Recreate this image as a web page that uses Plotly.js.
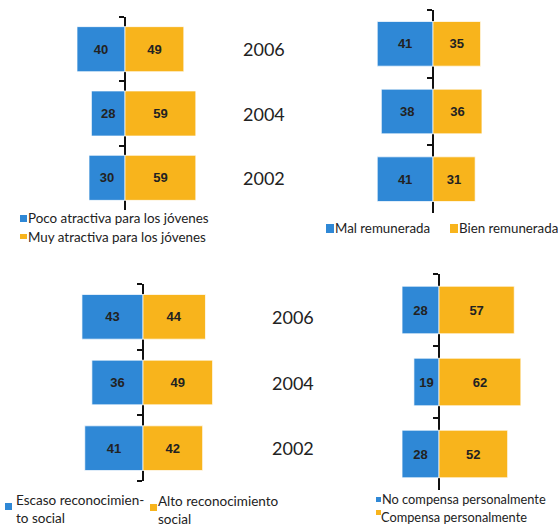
<!DOCTYPE html>
<html>
<head>
<meta charset="utf-8">
<script src="https://cdn.plot.ly/plotly-3.0.1.min.js"></script>
<style>html,body{margin:0;padding:0;background:#fff;}#chart{width:558px;height:526px;}</style>
</head>
<body>
<div id="chart"></div>
<script>
// ---- data ----
const years = ['2002', '2004', '2006'];

const atractivaPoco = [30, 28, 40];
const atractivaMuy = [59, 59, 49];

const remunMal = [41, 38, 41];
const remunBien = [31, 36, 35];

const reconEscaso = [41, 36, 43];
const reconAlto = [42, 49, 44];

const compensaNo = [28, 19, 28];
const compensaSi = [52, 62, 57];

const names = [
  ['Poco atractiva para los jóvenes', 'Muy atractiva para los jóvenes'],
  ['Mal remunerada', 'Bien remunerada'],
  ['Escaso reconocimien-<br>to social', 'Alto reconocimiento<br>social'],
  ['No compensa personalmente', 'Compensa personalmente']
];

// ---- styling / layout ----
const W = 558, H = 526;
const BLUE = '#2f88d6', ORANGE = '#f8b41c';
const px = v => v / W;
const py = v => 1 - v / H;

// panel geometry: [x0px, x1px, zeroPx, pxPerUnit, yTopPx, yBotPx, barWidth]
const panels = [
  [0, 280, 125, 1.2, 17, 210, 0.7],
  [280, 558, 433, 1.36, 10, 213, 0.66],
  [0, 280, 143, 1.42, 284, 481, 0.68],
  [280, 558, 439, 1.32, 274, 490, 0.66]
];
const series = [
  [atractivaPoco, atractivaMuy],
  [remunMal, remunBien],
  [reconEscaso, reconAlto],
  [compensaNo, compensaSi]
];
// hand-made legend: text [xStart, yCenter, fontSize], swatch [x, yTop, w, h]
const legendStyle = [
  [{t: [26, 218, 13.4], s: [20, 215, 7, 7]}, {t: [26, 237, 13.4], s: [20, 234, 7, 5]}],
  [{t: [333, 228, 13.3], s: [326, 224, 8, 9]}, {t: [457, 228, 13.3], s: [450, 224, 8, 9]}],
  [{t: [14, 508.5, 13.5], s: [5, 503, 7, 7]}, {t: [156, 510, 13.5], s: [150, 504, 7, 7]}],
  [{t: [380, 499, 12.8], s: [376, 497, 5, 5]}, {t: [379, 517, 12.8], s: [376, 510, 5, 5]}]
];

const traces = [];
const layout = {
  width: W, height: H,
  margin: {l: 0, r: 0, t: 0, b: 0, pad: 0, autoexpand: false},
  paper_bgcolor: '#fff', plot_bgcolor: 'rgba(0,0,0,0)',
  barmode: 'relative', showlegend: false,
  font: {family: 'Lato, "Open Sans", sans-serif', color: '#222'},
  annotations: [], shapes: []
};

panels.forEach((p, i) => {
  const n = i === 0 ? '' : String(i + 1);
  const [x0, x1, z, s, yt, yb, bw] = p;
  const [neg, pos] = series[i];
  const common = {
    type: 'bar', orientation: 'h', y: years, width: bw,
    xaxis: 'x' + n, yaxis: 'y' + n,
    textposition: 'inside', insidetextanchor: 'middle', constraintext: 'none',
    textfont: {family: 'Arial, "Liberation Sans", sans-serif', size: 13, color: '#222', weight: 'bold'},
    hoverinfo: 'skip'
  };
  const colors = [BLUE, ORANGE];
  [neg, pos].forEach((vals, j) => {
    traces.push(Object.assign({}, common, {
      name: names[i][j].replace('<br>', ' '),
      x: j === 0 ? vals.map(v => -v) : vals, text: vals.map(String),
      marker: {color: colors[j], line: {color: 'rgba(255,255,255,0.7)', width: 1}}
    }));
    const L = legendStyle[i][j];
    layout.annotations.push({
      text: names[i][j], xref: 'paper', yref: 'paper', x: px(L.t[0]), y: py(L.t[1]),
      xanchor: 'left', yanchor: 'middle', align: 'left', showarrow: false,
      font: {family: 'Lato, sans-serif', size: L.t[2], color: '#222'}
    });
    layout.shapes.push({
      type: 'rect', xref: 'paper', yref: 'paper', line: {width: 0}, fillcolor: colors[j],
      x0: px(L.s[0]), x1: px(L.s[0] + L.s[2]), y0: py(L.s[1] + L.s[3]), y1: py(L.s[1])
    });
  });
  layout['xaxis' + n] = {
    domain: [px(x0), px(x1)], range: [(x0 - z) / s, (x1 - z) / s],
    visible: false, fixedrange: true, anchor: 'y' + n
  };
  layout['yaxis' + n] = {
    domain: [py(yb), py(yt)], range: [-0.5, 2.5], type: 'category',
    anchor: 'free', position: px(z), showline: true, linecolor: '#111', linewidth: 2,
    ticks: 'outside', tickson: 'boundaries', ticklen: 5, tickwidth: 2, tickcolor: '#111',
    showticklabels: false, showgrid: false, zeroline: false, layer: 'below traces', fixedrange: true
  };
});

// year labels in the middle column
years.forEach((yr, k) => {
  layout.annotations.push({text: yr, xref: 'paper', yref: 'y', x: px(264), y: k,
    showarrow: false, font: {family: 'Lato, sans-serif', size: 18, color: '#222'}});
  layout.annotations.push({text: yr, xref: 'paper', yref: 'y3', x: px(293), y: k,
    showarrow: false, font: {family: 'Lato, sans-serif', size: 18, color: '#222'}});
});

Plotly.newPlot('chart', traces, layout, {displayModeBar: false, staticPlot: true});
</script>
</body>
</html>
